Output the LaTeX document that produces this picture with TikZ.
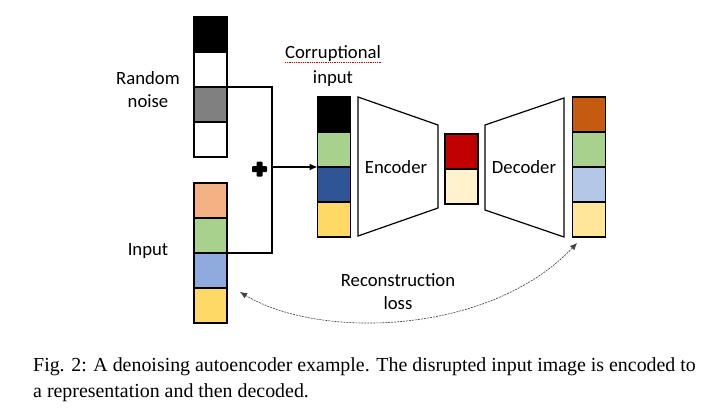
\documentclass[tikz,border=0pt]{standalone}
\usepackage{fontspec}
\setmainfont{Carlito}
\newfontfamily\capfont{Liberation Serif}
\usetikzlibrary{positioning,arrows.meta}

\definecolor{peach}{HTML}{F4B183}
\definecolor{leaf}{HTML}{A9D18E}
\definecolor{sky}{HTML}{8FAADC}
\definecolor{sun}{HTML}{FFD966}
\definecolor{navy}{HTML}{2F5597}
\definecolor{wine}{HTML}{C00000}
\definecolor{cream}{HTML}{FFF2CC}
\definecolor{rust}{HTML}{C55A11}
\definecolor{pale}{HTML}{B4C7E7}
\definecolor{butter}{HTML}{FFE699}

\tikzset{
  cell/.style={draw, rectangle, line width=1.3pt, outer sep=0pt, inner sep=0pt, minimum width=33pt, minimum height=35pt},
  lbl/.style={font=\fontsize{18.7}{23}\selectfont, align=center},
  block/.style={draw, line width=1.2pt, fill=white}
}

\begin{document}
\begin{tikzpicture}[x=1pt, y=-1pt]
    \useasboundingbox[fill=white] (0,0) rectangle (716,416);

    % random noise
    \node[cell, fill=black] (n1) at (210.5,34.5) {};
    \node[cell, fill=white, below=0pt of n1] (n2) {};
    \node[cell, fill=gray, below=0pt of n2] (n3) {};
    \node[cell, fill=white, below=0pt of n3] (n4) {};
    \node[lbl] (noise) at (148,90) {Random\\noise};

    % input
    \node[cell, fill=peach] (in1) at (210.5,200.5) {};
    \node[cell, fill=leaf, below=0pt of in1] (in2) {};
    \node[cell, fill=sky, below=0pt of in2] (in3) {};
    \node[cell, fill=sun, below=0pt of in3] (in4) {};
    \node[lbl] (input) at (148,251) {Input};

    % corrupted input
    \node[cell, fill=black] (c1) at (334,114.5) {};
    \node[cell, fill=leaf, below=0pt of c1] (c2) {};
    \node[cell, fill=navy, below=0pt of c2] (c3) {};
    \node[cell, fill=sun, below=0pt of c3] (c4) {};
    \node[lbl] (corr) at (333,66) {Corruptional\\[2pt]input};
    \draw[red!85!black, densely dotted, line width=0.8pt] (285,62.5) -- (381,62.5);

    % encoder / decoder
    \draw[block] (358,97) -- (438,125) -- (438,208) -- (358,236) -- cycle;
    \node[lbl] (enc) at (396,167) {Encoder};
    \node[cell, fill=wine] (z1) at (461.5,151.5) {};
    \node[cell, fill=cream, below=0pt of z1] (z2) {};
    \draw[block] (485,125) -- (564,98) -- (564,237) -- (485,210) -- cycle;
    \node[lbl] (dec) at (524,167) {Decoder};

    % output
    \node[cell, fill=rust] (o1) at (589,114.5) {};
    \node[cell, fill=leaf, below=0pt of o1] (o2) {};
    \node[cell, fill=pale, below=0pt of o2] (o3) {};
    \node[cell, fill=butter, below=0pt of o3] (o4) {};

    % sum of noise and input
    \coordinate (sum) at (272,167);
    \node[inner sep=0pt, minimum size=15pt] (plus) at (259.5,169) {};
    \fill[rounded corners=1pt] (plus.center) +(-7.5,-3) rectangle +(7.5,3);
    \fill[rounded corners=1pt] (plus.center) +(-3,-7.5) rectangle +(3,7.5);
    \draw[line width=1.2pt] (n3.north east) -| (sum) |- (in3.north east);
    \draw[line width=1.2pt, -{Latex[length=8pt,width=7pt]}] (sum) -- (c2.south west);

    % reconstruction loss
    \coordinate (lossin) at (240,292);
    \coordinate (lossout) at (577,243);
    \draw[black!75, line width=0.6pt, dash pattern=on 2pt off 1pt, {Latex[length=7pt,width=6pt]}-{Latex[length=7pt,width=6pt]}]
      (lossin) .. controls (320,340) and (490,335) .. (lossout);
    \node[lbl] (loss) at (398,292) {Reconstruction\\loss};

    % caption
    \node[anchor=north west, align=left, inner sep=0pt, font=\capfont\fontsize{19.9}{26}\selectfont] (cap) at (33,357)
      {Fig. 2: A denoising autoencoder example. The disrupted input image is encoded to\\a representation and then decoded.};
  \end{tikzpicture}
\end{document}
